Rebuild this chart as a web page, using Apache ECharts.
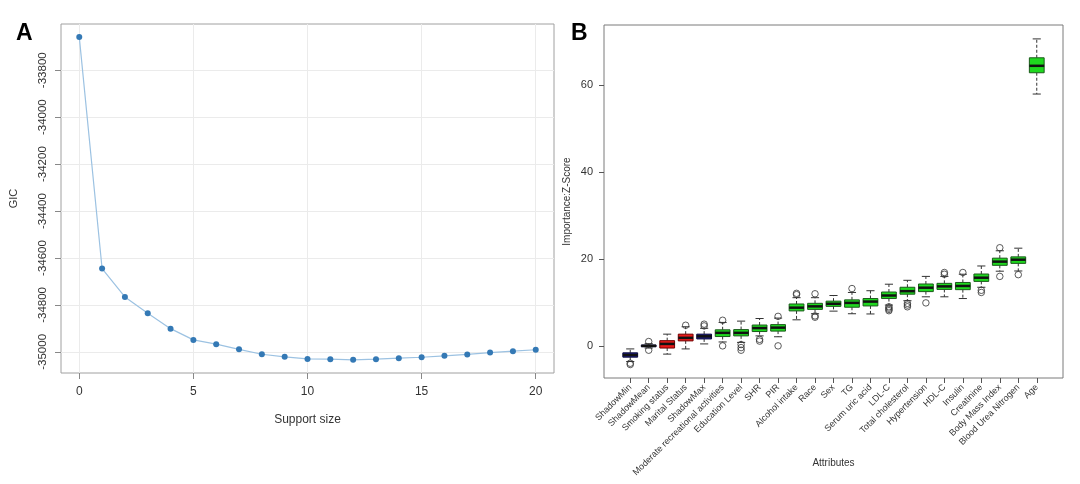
<!DOCTYPE html>
<html><head><meta charset="utf-8">
<script src="https://cdn.jsdelivr.net/npm/echarts@6/dist/echarts.min.js"></script>
<style>html,body{margin:0;padding:0;background:#fff}#c{width:1080px;height:484px}</style>
</head><body><div id="c"></div>
<script>
// Panel A data
const supportSize = [0,1,2,3,4,5,6,7,8,9,10,11,12,13,14,15,16,17,18,19,20];
const gicValues = [-33658,-34645,-34766,-34835,-34901,-34949,-34967,-34989,-35010,-35021,-35030,-35031,-35034,-35031,-35027,-35023,-35017,-35011,-35003,-34997,-34991];
const gicTicks = [-35000,-34800,-34600,-34400,-34200,-34000,-33800];
const sizeTicks = [0,5,10,15,20];

// Panel B data
const attributes = ['ShadowMin','ShadowMean','Smoking status','Marital Status','ShadowMax','Moderate recreational activities','Education Level','SHR','PIR','Alcohol intake','Race','Sex','TG','Serum uric acid','LDL-C','Total cholesterol','Hypertension','HDL-C','Insulin','Creatinine','Body Mass Index','Blood Urea Nitrogen','Age'];
const attributeStatus = ['shadow','shadow','rejected','rejected','shadow','confirmed','confirmed','confirmed','confirmed','confirmed','confirmed','confirmed','confirmed','confirmed','confirmed','confirmed','confirmed','confirmed','confirmed','confirmed','confirmed','confirmed','confirmed'];
const zMin    = [-3.6,-0.5,-1.9,-0.7,0.45,0.9,0.8,2.3,2.1,6.0,7.4,8.0,7.4,7.35,9.4,10.4,11.3,11.3,10.9,13.5,17.2,17.25,58.0];
const zQ1     = [-2.6,-0.2,-0.5,1.15,1.6,2.15,2.3,3.3,3.4,8.05,8.4,9.1,8.9,9.2,10.9,11.9,12.5,13.0,12.95,14.85,18.55,19.0,62.9];
const zMedian = [-2.1,0.0,0.45,1.85,2.2,3.0,3.0,4.1,4.2,8.8,9.1,9.7,9.9,10.2,11.6,12.6,13.4,13.7,13.8,15.7,19.4,19.85,64.5];
const zQ3     = [-1.6,0.2,1.2,2.7,2.7,3.7,3.75,4.8,4.9,9.65,9.8,10.3,10.6,10.9,12.4,13.5,14.25,14.4,14.6,16.55,20.2,20.5,66.35];
const zMax    = [-0.7,0.5,2.7,4.4,4.05,5.4,5.7,6.3,6.4,11.1,11.1,11.6,12.3,12.7,14.2,15.1,16.0,16.0,16.5,18.4,21.9,22.5,70.7];
const outliers = [[1,-4.0],[1,-4.3],[2,1.0],[2,-1.0],[4,4.75],[5,4.6],[5,5.0],[6,5.9],[6,0.0],[7,0.3],[7,-0.4],[7,-1.0],[8,1.5],[8,1.1],[9,6.8],[9,0.0],[10,12.1],[10,11.8],[11,12.0],[11,6.9],[11,6.6],[13,13.2],[15,9.0],[15,8.7],[15,8.4],[15,8.1],[16,9.8],[16,9.4],[16,9.0],[17,9.9],[18,16.9],[18,16.5],[19,16.9],[20,12.8],[20,12.3],[21,22.6],[21,16.0],[22,16.4]];
const zTicks = [0,20,40,60];

const statusFill = {shadow:'#1c1c86', rejected:'#e81818', confirmed:'#1ed81e'};
const statusBorder = {shadow:'#0a0a40', rejected:'#700000', confirmed:'#1b5a1b'};
const catPositions = attributes.map((_, i) => i + 1);
const boxData = attributes.map((_, i) => [i + 1, zMin[i], zQ1[i], zMedian[i], zQ3[i], zMax[i]]);

const FONT = 'Liberation Sans, Arial, sans-serif';
const chart = echarts.init(document.getElementById('c'));
chart.setOption({
  animation: false,
  backgroundColor: '#fff',
  textStyle: {fontFamily: FONT},
  graphic: [
    {type:'text', left: 16, top: 22, style:{text:'A', font:'bold 23px ' + FONT, fill:'#000'}},
    {type:'text', left: 571, top: 22, style:{text:'B', font:'bold 23px ' + FONT, fill:'#000'}}
  ],
  grid: [
    {left: 61, top: 24, width: 493, height: 349, outerBoundsMode: 'none', containLabel: false, show: true, borderColor: '#a0a0a0', borderWidth: 1, backgroundColor: 'transparent'},
    {left: 604, top: 25, width: 459, height: 353, outerBoundsMode: 'none', containLabel: false, show: true, borderColor: '#7a7a7a', borderWidth: 1, backgroundColor: 'transparent'}
  ],
  xAxis: [
    {gridIndex: 0, type: 'value', min: -0.8, max: 20.8, minInterval: 5, maxInterval: 5,
     name: 'Support size', nameLocation: 'middle', nameGap: 41,
     nameTextStyle: {fontSize: 12, color: '#333', fontFamily: FONT},
     axisLine: {show: false, onZero: false},
     axisTick: {show: true, length: 6, lineStyle: {color: '#888'}, customValues: sizeTicks},
     axisLabel: {fontSize: 12, color: '#333', margin: 13, customValues: sizeTicks, fontFamily: FONT, formatter: v => String(v)},
     splitLine: {show: true, lineStyle: {color: '#ebebeb', width: 1}}},
    {gridIndex: 1, type: 'value', min: -0.42, max: 24.42,
     name: 'Attributes', nameLocation: 'middle', nameGap: 80, nameMoveOverlap: false,
     nameTextStyle: {fontSize: 10, color: '#333', fontFamily: FONT},
     axisLine: {show: false, onZero: false},
     axisTick: {show: true, length: 5, lineStyle: {color: '#555'}, customValues: catPositions},
     axisLabel: {fontSize: 9, color: '#333', rotate: 45, margin: 8, customValues: catPositions, fontFamily: FONT,
       formatter: v => attributes[Math.round(v) - 1] || ''},
     splitLine: {show: false}}
  ],
  yAxis: [
    {gridIndex: 0, type: 'value', min: -35090, max: -33603, minInterval: 200, maxInterval: 200,
     name: 'GIC', nameLocation: 'middle', nameGap: 42,
     nameTextStyle: {fontSize: 11, color: '#333', fontFamily: FONT},
     axisLine: {show: false, onZero: false},
     axisTick: {show: true, length: 6, lineStyle: {color: '#888'}, customValues: gicTicks},
     axisLabel: {fontSize: 11.5, color: '#333', rotate: 90, margin: 12, customValues: gicTicks, fontFamily: FONT, formatter: v => String(v)},
     splitLine: {show: true, lineStyle: {color: '#ebebeb', width: 1}}},
    {gridIndex: 1, type: 'value', min: -7.4, max: 73.9, minInterval: 20, maxInterval: 20,
     name: 'Importance:Z-Score', nameLocation: 'middle', nameGap: 32,
     nameTextStyle: {fontSize: 10, color: '#333', fontFamily: FONT},
     axisLine: {show: false, onZero: false},
     axisTick: {show: true, length: 5, lineStyle: {color: '#555'}, customValues: zTicks},
     axisLabel: {fontSize: 11, color: '#333', margin: 11, customValues: zTicks, fontFamily: FONT, formatter: v => String(v)},
     splitLine: {show: false}}
  ],
  series: [
    {type: 'line', xAxisIndex: 0, yAxisIndex: 0,
     data: supportSize.map((s, i) => [s, gicValues[i]]),
     symbol: 'circle', symbolSize: 6, showAllSymbol: true,
     lineStyle: {color: '#9cc2e2', width: 1.2},
     itemStyle: {color: '#3479b5'}},
    {type: 'custom', xAxisIndex: 1, yAxisIndex: 1,
     data: boxData,
     encode: {x: 0, y: [1, 2, 3, 4, 5]},
     renderItem: function (params, api) {
       const i = api.value(0);
       const lo = api.coord([i, api.value(1)]);
       const q1 = api.coord([i, api.value(2)]);
       const md = api.coord([i, api.value(3)]);
       const q3 = api.coord([i, api.value(4)]);
       const hi = api.coord([i, api.value(5)]);
       const bw = api.size([0.8, 0])[0];
       const cw = api.size([0.44, 0])[0];
       const st = attributeStatus[params.dataIndex];
       const x = lo[0];
       const wStyle = {stroke: '#333', lineWidth: 1, lineDash: [3, 2]};
       const cStyle = {stroke: '#333', lineWidth: 1};
       return {type: 'group', children: [
         {type: 'line', shape: {x1: x, y1: q3[1], x2: x, y2: hi[1]}, style: wStyle},
         {type: 'line', shape: {x1: x, y1: q1[1], x2: x, y2: lo[1]}, style: wStyle},
         {type: 'line', shape: {x1: x - cw / 2, y1: hi[1], x2: x + cw / 2, y2: hi[1]}, style: cStyle},
         {type: 'line', shape: {x1: x - cw / 2, y1: lo[1], x2: x + cw / 2, y2: lo[1]}, style: cStyle},
         {type: 'rect', shape: {x: x - bw / 2, y: q3[1], width: bw, height: q1[1] - q3[1]},
          style: {fill: statusFill[st], stroke: statusBorder[st], lineWidth: 1}},
         {type: 'line', shape: {x1: x - bw / 2, y1: md[1], x2: x + bw / 2, y2: md[1]},
          style: {stroke: '#111', lineWidth: 2.5}}
       ]};
     }},
    {type: 'scatter', xAxisIndex: 1, yAxisIndex: 1,
     data: outliers,
     symbol: 'circle', symbolSize: 6.5,
     itemStyle: {color: 'rgba(0,0,0,0)', borderColor: '#333', borderWidth: 1}}
  ]
});
</script></body></html>
